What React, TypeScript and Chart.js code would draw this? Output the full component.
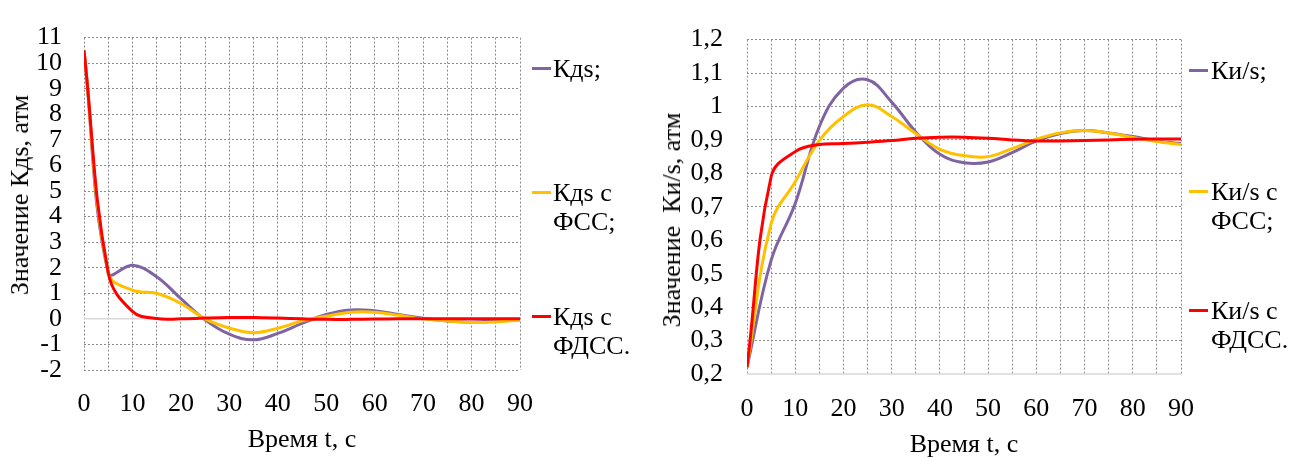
import React, { useEffect, useRef } from 'react';
import { Chart, registerables } from 'chart.js';

Chart.register(...registerables);

// ---------- data ----------
const TIME = [0, 5, 10, 15, 20, 25, 30, 35, 40, 45, 50, 55, 60, 65, 70, 75, 80, 85, 90];

const KDS = [10.5, 1.8, 2.1, 1.65, 0.79, -0.04, -0.6, -0.82, -0.57, -0.18, 0.17, 0.35, 0.32, 0.17, 0.02, -0.08, -0.12, -0.08, -0.02];
const KDS_FSS = [10.5, 1.8, 1.12, 1.0, 0.6, 0.0, -0.36, -0.54, -0.37, -0.08, 0.1, 0.26, 0.26, 0.14, 0.0, -0.08, -0.14, -0.12, -0.05];
const KDS_FDSS = [10.5, 1.8, 0.29, 0.01, 0.0, 0.03, 0.05, 0.05, 0.03, 0.0, -0.02, -0.02, -0.01, 0.0, 0.0, 0.0, 0.0, 0.0, 0.0];

const KIS = [0.22, 0.54, 0.71, 0.94, 1.055, 1.08, 1.013, 0.924, 0.857, 0.832, 0.834, 0.862, 0.897, 0.919, 0.928, 0.921, 0.91, 0.897, 0.889];
const KIS_FSS = [0.22, 0.65, 0.775, 0.898, 0.97, 1.005, 0.97, 0.919, 0.872, 0.853, 0.85, 0.874, 0.902, 0.921, 0.928, 0.921, 0.907, 0.895, 0.886];
const KIS_FDSS = [0.22, 0.79, 0.865, 0.886, 0.889, 0.893, 0.898, 0.905, 0.908, 0.908, 0.905, 0.9, 0.897, 0.897, 0.898, 0.9, 0.902, 0.903, 0.903];

const LEFT_LABELS = ['Кдs;', 'Кдs с\nФСС;', 'Кдs с\nФДСС.'];
const RIGHT_LABELS = ['Ки/s;', 'Ки/s с\nФСС;', 'Ки/s с\nФДСС.'];
const LEFT_Y_TITLE = 'Значение Кдs, атм';
const RIGHT_Y_TITLE = 'Значение  Ки/s, атм';
const X_TITLE = 'Время t, с';

const X_MIN = 0, X_MAX = 90, X_STEP = 5, X_LABEL_STEP = 10;
const LEFT_Y_MIN = -2, LEFT_Y_MAX = 11, LEFT_Y_STEP = 1;
const RIGHT_Y_MIN = 0.2, RIGHT_Y_MAX = 1.2, RIGHT_Y_STEP = 0.1;

// ---------- styles ----------
const COLORS = ['#8064A2', '#FFC000', '#FF0000'];
const FONT_FAMILY = 'Liberation Serif';
const FONT_SIZE = 26;
const GRID_COLOR = '#8c8c8c';
const BASE_COLOR = '#d9d9d9';

const baseLinePlugin = {
  id: 'baseLine',
  beforeDatasetsDraw(chart: any, _args: any, opts: any) {
    const y = chart.scales.y.getPixelForValue(opts.value);
    const { left, right } = chart.chartArea;
    const ctx = chart.ctx;
    ctx.save();
    ctx.strokeStyle = BASE_COLOR;
    ctx.lineWidth = 1.5;
    ctx.beginPath();
    ctx.moveTo(left, y);
    ctx.lineTo(right, y);
    ctx.stroke();
    ctx.restore();
  },
};

type PanelProps = {
  series: number[][];
  yMin: number;
  yMax: number;
  yStep: number;
  base: number;
  yWidth: number;
  yTickPad: number;
  xHeight: number;
  xTickPad: number;
  xTitlePad: number;
  padTop: number;
  padRight: number;
  left: number;
};

const fmt = (v: number) => String(Number(v.toFixed(2))).replace('.', ',');

function Panel(p: PanelProps) {
  const ref = useRef<HTMLCanvasElement | null>(null);
  useEffect(() => {
    if (!ref.current) return;
    const font = { family: FONT_FAMILY, size: FONT_SIZE };
    const chart = new Chart(ref.current, {
      type: 'line',
      data: {
        datasets: p.series.map((vals, si) => ({
          label: String(si),
          data: TIME.map((x, i) => ({ x, y: vals[i] })),
          borderColor: COLORS[si],
          backgroundColor: COLORS[si],
          borderWidth: 3,
          pointRadius: 0,
          tension: 0.4,
          fill: false,
          order: 3 - si,
        })),
      },
      options: {
        responsive: false,
        animation: false,
        layout: { padding: { left: 0, right: p.padRight, top: p.padTop, bottom: 0 } },
        plugins: {
          legend: { display: false },
          tooltip: { enabled: false },
          // @ts-ignore
          baseLine: { value: p.base },
        },
        scales: {
          x: {
            type: 'linear',
            min: X_MIN,
            max: X_MAX,
            ticks: {
              stepSize: X_STEP,
              autoSkip: false,
              maxRotation: 0,
              padding: p.xTickPad,
              color: '#000',
              font,
              callback: (v: any) => (Number(v) % X_LABEL_STEP === 0 ? String(v) : ''),
            },
            grid: { color: GRID_COLOR, lineWidth: 1, drawTicks: false },
            border: { display: false, dash: [2, 2] },
            title: {
              display: true,
              text: X_TITLE,
              color: '#000',
              font: { ...font, lineHeight: 1 },
              padding: { top: 0, bottom: p.xTitlePad },
            },
            afterFit: (s: any) => { s.height = p.xHeight; },
          },
          y: {
            type: 'linear',
            min: p.yMin,
            max: p.yMax,
            ticks: {
              stepSize: p.yStep,
              autoSkip: false,
              padding: p.yTickPad,
              color: '#000',
              font,
              callback: (v: any) => fmt(Number(v)),
            },
            grid: {
              color: (c: any) => (Math.abs(c.tick.value - p.base) < 1e-9 ? 'rgba(0,0,0,0)' : GRID_COLOR),
              lineWidth: 1,
              drawTicks: false,
            },
            border: { display: false, dash: [2, 2] },
            title: { display: false },
            afterFit: (s: any) => { s.width = p.yWidth; },
          },
        },
      } as any,
      plugins: [baseLinePlugin],
    });
    return () => chart.destroy();
  }, []);
  return (
    <canvas
      ref={ref}
      width={645}
      height={458}
      style={{ position: 'absolute', left: p.left, top: 0, width: 645, height: 458 }}
    />
  );
}

function YTitle({ text, cx, cy }: { text: string; cx: number; cy: number }) {
  return (
    <div
      style={{
        position: 'absolute',
        left: cx,
        top: cy,
        transform: 'translate(-50%, -50%) rotate(-90deg)',
        fontFamily: FONT_FAMILY,
        fontSize: FONT_SIZE,
        lineHeight: 1,
        color: '#000',
        whiteSpace: 'pre',
      }}
    >
      {text}
    </div>
  );
}

function Legend({ labels, lineX, textX, ys }: { labels: string[]; lineX: number; textX: number; ys: number[] }) {
  return (
    <>
      {labels.map((lab, i) => (
        <React.Fragment key={i}>
          <div
            style={{
              position: 'absolute',
              left: lineX,
              top: ys[i] - 1.5,
              width: 19,
              height: 3,
              background: COLORS[i],
            }}
          />
          <div
            style={{
              position: 'absolute',
              left: textX,
              top: ys[i] - 14.5,
              fontFamily: FONT_FAMILY,
              fontSize: FONT_SIZE,
              lineHeight: '29px',
              color: '#000',
              whiteSpace: 'pre',
            }}
          >
            {lab}
          </div>
        </React.Fragment>
      ))}
    </>
  );
}

export default function App() {
  return (
    <div style={{ position: 'absolute', left: 0, top: 0, width: 1290, height: 458, background: '#fff', overflow: 'hidden' }}>
      <Panel
        series={[KDS, KDS_FSS, KDS_FDSS]}
        yMin={LEFT_Y_MIN}
        yMax={LEFT_Y_MAX}
        yStep={LEFT_Y_STEP}
        base={0}
        yWidth={84}
        yTickPad={22}
        xHeight={88}
        xTickPad={19}
        xTitlePad={5}
        padTop={20}
        padRight={125}
        left={0}
      />
      <Panel
        series={[KIS, KIS_FSS, KIS_FDSS]}
        yMin={RIGHT_Y_MIN}
        yMax={RIGHT_Y_MAX}
        yStep={RIGHT_Y_STEP}
        base={RIGHT_Y_MIN}
        yWidth={102}
        yTickPad={24}
        xHeight={84}
        xTickPad={20}
        xTitlePad={0}
        padTop={21}
        padRight={109}
        left={645}
      />
      <YTitle text={LEFT_Y_TITLE} cx={20} cy={195} />
      <YTitle text={RIGHT_Y_TITLE} cx={672} cy={220} />
      <Legend labels={LEFT_LABELS} lineX={532} textX={553} ys={[68, 192, 316]} />
      <Legend labels={RIGHT_LABELS} lineX={1189} textX={1211} ys={[70, 191, 310]} />
    </div>
  );
}
